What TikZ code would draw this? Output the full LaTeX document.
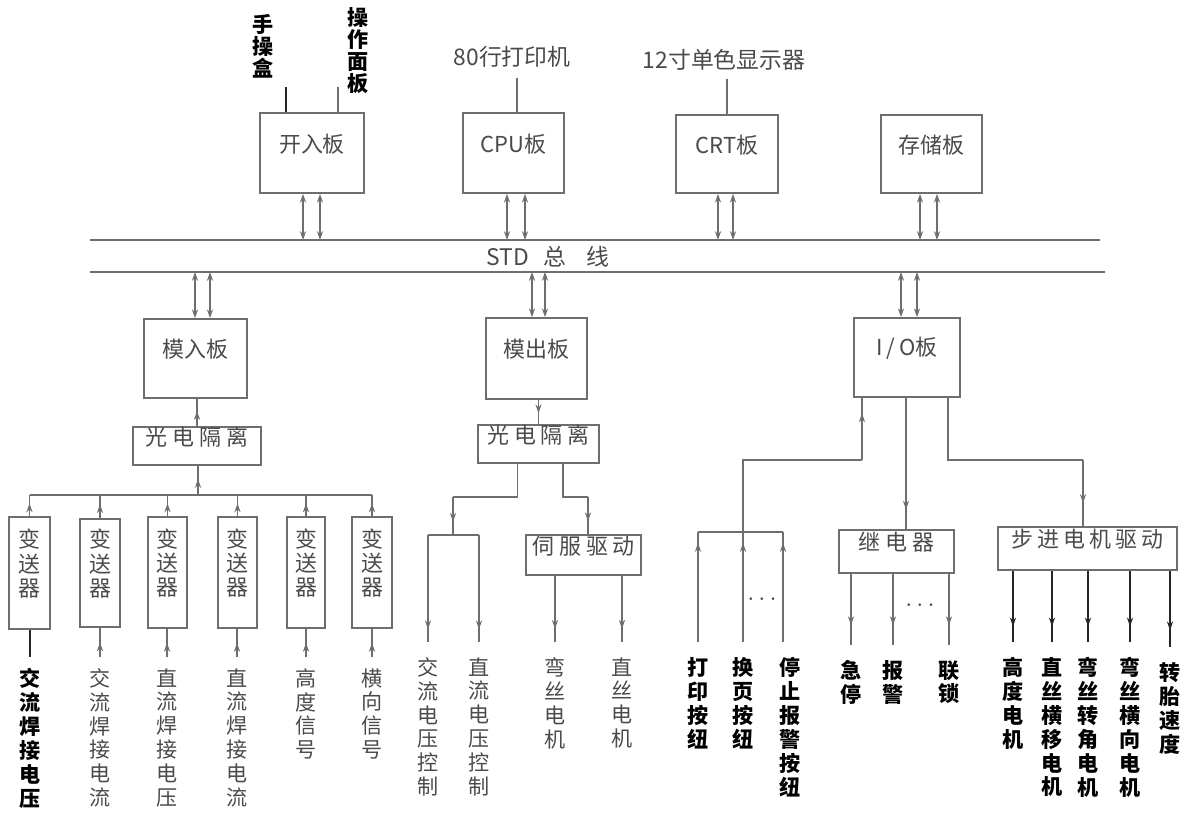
\documentclass[tikz,border=0pt]{standalone}
\usepackage{fontspec}
\newfontfamily\cjk{Noto Sans CJK SC}
\usetikzlibrary{arrows.meta,decorations.markings,fit,calc}
\definecolor{lc}{HTML}{6E6E6E}
\definecolor{tc}{HTML}{4A4A4A}
\newcommand\pairlines[5]{%
  \draw[bi] ($(#1.#2)+(#4,0)$) -- ($(#1.#2 |- #3)+(#4,0)$);
  \draw[bi] ($(#1.#2)+(#5,0)$) -- ($(#1.#2 |- #3)+(#5,0)$);}
\begin{document}
\begin{tikzpicture}[x=0.02cm,y=-0.02cm,
  box/.style={draw=lc, line width=1pt, inner sep=0pt, align=center, text=tc, font=\cjk\fontsize{12.5}{13.8}\selectfont},
  ln/.style={draw=lc, line width=1pt},
  dk/.style={draw=black!85, line width=1.1pt},
  bi/.style={ln, {Stealth[length=5pt,width=3.5pt]}-{Stealth[length=5pt,width=3.5pt]}},
  ma/.style={postaction={decorate}, decoration={markings, mark=at position #1 with {\arrow{Stealth[length=5pt,width=3.5pt]}}}},
  ma/.default=0.5,
  vl/.style={align=center, anchor=north, inner sep=0pt, text=tc, font=\cjk\fontsize{12}{13.6}\selectfont},
  vd/.style={vl, text=black, font=\cjk\bfseries\fontsize{12}{13.6}\selectfont},
  ht/.style={inner sep=0pt, text=tc, font=\cjk\fontsize{13}{14}\selectfont},
]
\useasboundingbox (0,0) rectangle (1186,817);

% ---------------- bus ----------------
\coordinate (bt0) at (90,240);  \coordinate (bt1) at (1100,240);
\coordinate (bb0) at (90,272);  \coordinate (bb1) at (1105,272);
\draw[ln] (bt0) -- (bt1);
\draw[ln] (bb0) -- (bb1);
\node[ht] (std) at (548,257) {STD\hspace{0.3cm}总\hspace{0.4cm}线};

% ---------------- top boards ----------------
\node[box, fit={(260,113)(364,193)}] (kr) {开入板};
\node[box, fit={(463,113)(564,193)}] (cpu) {CPU板};
\node[box, fit={(676,115)(778,193)}] (crt) {CRT板};
\node[box, fit={(881,115)(982,193)}] (mem) {存储板};

\pairlines{kr}{south}{bt0}{-9}{8}
\pairlines{cpu}{south}{bt0}{-6.5}{11.5}
\pairlines{crt}{south}{bt0}{-9}{6}
\pairlines{mem}{south}{bt0}{-11.5}{5.5}

% top peripherals
\node[vd, font=\cjk\bfseries\fontsize{12}{12.6}\selectfont] (ss) at (263,14) {手\\操\\盒};
\node[vd, font=\cjk\bfseries\fontsize{12}{12.6}\selectfont] (cz) at (358,7) {操\\作\\面\\板};
\coordinate (ssl) at (286,87);
\coordinate (czl) at (338,87);
\draw[dk] (ssl) -- (ssl |- kr.north);
\draw[ln] (czl) -- (czl |- kr.north);
\node[ht] (prn) at (512,57) {80行打印机};
\node[ht] (disp) at (724,60) {12寸单色显示器};
\draw[ln] ($(cpu.north)+(3.5,0)$) -- ($(cpu.north |- prn.south)+(3.5,10)$);
\draw[ln] (crt.north) -- ($(crt.north |- disp.south)+(0,8)$);

% ---------------- middle boards ----------------
\node[box, fit={(144,319)(247,398)}] (mdin) {模入板};
\node[box, fit={(486,318)(587,399)}] (mdout) {模出板};
\node[box, fit={(854,318)(960,397)}] (io) {I\,/\,O板};

\pairlines{mdin}{north}{bb0}{-0.5}{14.5}
\pairlines{mdout}{north}{bb0}{-4.5}{8.5}
\pairlines{io}{north}{bb0}{-6}{10}

% ---------------- left: analog input ----------------
\node[box, fit={(133,427)(261,465)}] (gd1) {光\hspace{0.1cm}电\hspace{0.1cm}隔\hspace{0.1cm}离};
\draw[ln, ma=0.55] (gd1.north) -- (gd1.north |- mdin.south);
\coordinate (h1) at (198,495);
\draw[ln, ma=0.55] (h1) -- (h1 |- gd1.south);

\node[box, fit={(9,517)(50,629)}]   (bs1) {变\\送\\器};
\node[box, fit={(80,519)(120,627)}] (bs2) {变\\送\\器};
\node[box, fit={(148,517)(187,628)}] (bs3) {变\\送\\器};
\node[box, fit={(218,517)(257,628)}] (bs4) {变\\送\\器};
\node[box, fit={(287,517)(325,628)}] (bs5) {变\\送\\器};
\node[box, fit={(352,517)(392,628)}] (bs6) {变\\送\\器};
\draw[ln] (bs1.north |- h1) -- (bs6.north |- h1);
\foreach \b in {bs1,bs2,bs3,bs4,bs5,bs6}{
  \draw[ln, ma=0.6] (\b.north) -- (\b.north |- h1);
}

\node[vd] (l1) at (30,668)  {交\\流\\焊\\接\\电\\压};
\node[vl] (l2) at (100,668) {交\\流\\焊\\接\\电\\流};
\node[vl] (l3) at (167,668) {直\\流\\焊\\接\\电\\压};
\node[vl] (l4) at (237,668) {直\\流\\焊\\接\\电\\流};
\node[vl] (l5) at (306,668) {高\\度\\信\\号};
\node[vl] (l6) at (372,668) {横\\向\\信\\号};
\draw[dk] ($(l1.north)+(0,-11)$) -- (l1.north |- bs1.south);
\foreach \i in {2,3,4,5,6}{
  \draw[ln, ma=0.5] ($(l\i.north)+(0,-11)$) -- (l\i.north |- bs\i.south);
}

% ---------------- middle: analog output ----------------
\node[box, fit={(478,425)(599,463)}] (gd2) {光\hspace{0.1cm}电\hspace{0.1cm}隔\hspace{0.1cm}离};
\draw[ln, ma=0.55] (gd2.north |- mdout.south) -- (gd2.north);

\coordinate (g2a) at ($(gd2.south)+(-21,0)$);
\coordinate (g2b) at (453,497);
\coordinate (bar1) at (453,535);
\coordinate (bar1L) at (428,535);
\coordinate (bar1R) at (479,535);
\draw[ln] (g2a) |- (g2b);
\draw[ln, ma=0.65] (g2b) -- (bar1);
\draw[ln] (bar1L) -- (bar1R);

\node[box, fit={(526,535)(641,575)}] (sf) {伺\hspace{0.1cm}服\hspace{0.1cm}驱\hspace{0.1cm}动};
\coordinate (g2c) at ($(gd2.south)+(24.5,0)$);
\coordinate (g2d) at (588,497);
\draw[ln] (g2c) |- (g2d);
\draw[ln, ma=0.65] (g2d) -- (g2d |- sf.north);

\node[vl] (m1) at (428,657) {交\\流\\电\\压\\控\\制};
\node[vl] (m2) at (479,657) {直\\流\\电\\压\\控\\制};
\node[vl] (m3) at (555,657) {弯\\丝\\电\\机};
\node[vl] (m4) at (622,657) {直\\丝\\电\\机};
\draw[ln, ma=0.88] (bar1L) -- ($(m1.north)+(0,-15)$);
\draw[ln, ma=0.88] (bar1R) -- ($(m2.north)+(0,-15)$);
\draw[ln, ma=0.8] (m3.north |- sf.south) -- ($(m3.north)+(0,-15)$);
\draw[ln, ma=0.8] (m4.north |- sf.south) -- ($(m4.north)+(0,-15)$);

% ---------------- right: I/O ----------------
% inputs
\coordinate (i1) at ($(io.south)+(-45,0)$);
\coordinate (i2) at (862,460);
\coordinate (b2) at (743,532);
\coordinate (b1) at (698,532);
\coordinate (b3) at (783,532);
\draw[ln] (b2) |- (i2);
\draw[ln, ma=0.75] (i2) -- (i1);
\draw[ln] (b1) -- (b3);
\node[vd] (k1) at (698,657) {打\\印\\按\\纽};
\node[vd] (k2) at (743,657) {换\\页\\按\\纽};
\node[vd] (k3) at (790,657) {停\\止\\报\\警\\按\\纽};
\draw[ln, ma=0.9] ($(k1.north)+(0,-15)$) -- (b1);
\draw[ln, ma=0.9] ($(k2.north)+(0,-15)$) -- (b2);
\draw[ln, ma=0.9] ($(b3 |- k3.north)+(0,-15)$) -- (b3);
\node[text=tc, font=\Large] (dots1) at (762,600) {$\cdots$};

% relay
\node[box, fit={(839,530)(954,573)}] (jd) {继\hspace{0.1cm}电\hspace{0.1cm}器};
\draw[ln, ma=0.85] ($(io.south)+(-1,0)$) -- ($(io.south |- jd.north)+(-1,0)$);
\node[vd] (j1) at (851,660) {急\\停};
\node[vd] (j2) at (893,660) {报\\警};
\node[vd] (j3) at (949,660) {联\\锁};
\foreach \i in {1,2,3}{
  \draw[ln, ma=0.72] (j\i.north |- jd.south) -- ($(j\i.north)+(0,-15)$);
}
\node[text=tc, font=\Large] (dots2) at (920,606) {$\cdots$};

% stepper
\node[box, fit={(998,527)(1177,570)}] (bj) {步\hspace{0.08cm}进\hspace{0.08cm}电\hspace{0.08cm}机\hspace{0.08cm}驱\hspace{0.08cm}动};
\coordinate (r1) at ($(io.south)+(41,0)$);
\coordinate (r2) at (1083,460);
\draw[ln] (r1) |- (r2);
\draw[ln, ma=0.65] (r2) -- (r2 |- bj.north);
\node[vd] (s1) at (1013,657) {高\\度\\电\\机};
\node[vd] (s2) at (1052,657) {直\\丝\\横\\移\\电\\机};
\node[vd] (s3) at (1088,657) {弯\\丝\\转\\角\\电\\机};
\node[vd] (s4) at (1130,657) {弯\\丝\\横\\向\\电\\机};
\node[vd] (s5) at (1170,662) {转\\胎\\速\\度};
\foreach \i in {1,2,3,4,5}{
  \draw[dk, ma=0.78] (s\i.north |- bj.south) -- ($(s\i.north)+(0,-15)$);
}
\end{tikzpicture}
\end{document}
